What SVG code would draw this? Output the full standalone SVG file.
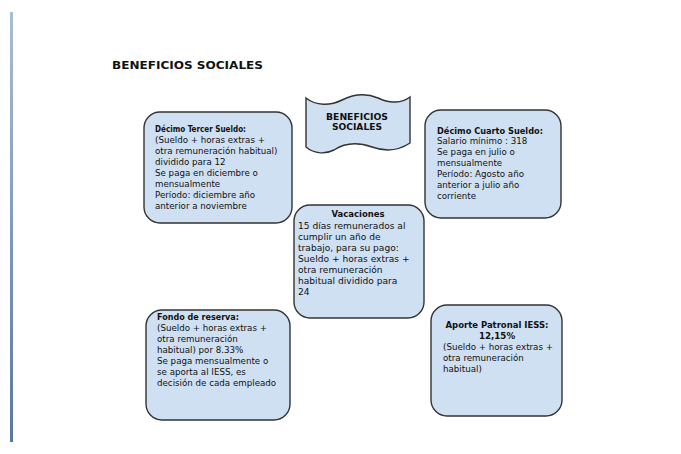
<svg xmlns="http://www.w3.org/2000/svg" width="681" height="454" viewBox="0 0 681 454">
<defs>
<linearGradient id="bar" x1="0" y1="0" x2="0" y2="1">
<stop offset="0" stop-color="#a9bcd8"/>
<stop offset="1" stop-color="#5878a4"/>
</linearGradient>
<style>
.box{fill:#cfe0f2;stroke:#333;stroke-width:1.4}
.t{font-family:"DejaVu Sans",sans-serif;font-size:8.7px;fill:#111}
.b{font-weight:bold}
.v{font-size:9.1px}
.h{font-family:"DejaVu Sans",sans-serif;font-weight:bold;fill:#111}
</style>
</defs>
<rect width="681" height="454" fill="#fff"/>
<rect x="10" y="12" width="3" height="430" fill="url(#bar)"/>
<text class="h" x="112" y="69" font-size="11" textLength="151" lengthAdjust="spacingAndGlyphs">BENEFICIOS SOCIALES</text>

<g id="banner">
<path class="box" d="M306,98 C316,106 330,106 342,100 C354,94 366,93 378,98 C390,104 402,103 410,97 L410,143 C398,151 386,152 372,147 C358,142 346,142 334,150 C324,155 313,153 306,147 Z"/>
<text class="h" x="357" y="120" font-size="8.5" text-anchor="middle" textLength="62" lengthAdjust="spacingAndGlyphs">BENEFICIOS</text>
<text class="h" x="357" y="130" font-size="8.5" text-anchor="middle" textLength="50" lengthAdjust="spacingAndGlyphs">SOCIALES</text>
</g>

<g id="tercer">
<rect class="box" x="144" y="112" width="148" height="111" rx="16"/>
<text class="t b" x="155" y="132" textLength="91" lengthAdjust="spacingAndGlyphs">Décimo Tercer Sueldo:</text>
<text class="t" x="155" y="143">(Sueldo + horas extras +</text>
<text class="t" x="155" y="154">otra remuneración habitual)</text>
<text class="t" x="155" y="165">dividido para 12</text>
<text class="t" x="155" y="176">Se paga en diciembre o</text>
<text class="t" x="155" y="187">mensualmente</text>
<text class="t" x="155" y="198">Período: diciembre año</text>
<text class="t" x="155" y="209">anterior a noviembre</text>
</g>

<g id="cuarto">
<rect class="box" x="425" y="110" width="136" height="108" rx="16"/>
<text class="t b" x="437" y="134" textLength="106" lengthAdjust="spacingAndGlyphs">Décimo Cuarto Sueldo:</text>
<text class="t" x="437" y="144">Salario mínimo : 318</text>
<text class="t" x="437" y="155">Se paga en julio o</text>
<text class="t" x="437" y="166">mensualmente</text>
<text class="t" x="437" y="177">Período: Agosto año</text>
<text class="t" x="437" y="188">anterior a julio año</text>
<text class="t" x="437" y="199">corriente</text>
</g>

<g id="vacaciones">
<rect class="box" x="294" y="205" width="130" height="113" rx="16"/>
<text class="t b" x="358" y="217" text-anchor="middle" textLength="53" lengthAdjust="spacingAndGlyphs">Vacaciones</text>
<text class="t v" x="298" y="228.5">15 días remunerados al</text>
<text class="t v" x="298" y="239.5">cumplir un año de</text>
<text class="t v" x="298" y="250.5">trabajo, para su pago:</text>
<text class="t v" x="298" y="261.5">Sueldo + horas extras +</text>
<text class="t v" x="298" y="272.5">otra remuneración</text>
<text class="t v" x="298" y="283.5">habitual dividido para</text>
<text class="t v" x="298" y="294.5">24</text>
</g>

<g id="fondo">
<rect class="box" x="146" y="310" width="144" height="110" rx="16"/>
<text class="t b" x="157" y="320" textLength="82" lengthAdjust="spacingAndGlyphs">Fondo de reserva:</text>
<text class="t" x="157" y="331">(Sueldo + horas extras +</text>
<text class="t" x="157" y="342">otra remuneración</text>
<text class="t" x="157" y="353">habitual)  por 8.33%</text>
<text class="t" x="157" y="364">Se paga mensualmente o</text>
<text class="t" x="157" y="375">se aporta al IESS, es</text>
<text class="t" x="157" y="386">decisión de cada empleado</text>
</g>

<g id="aporte">
<rect class="box" x="431" y="305" width="131" height="111" rx="16"/>
<text class="t b" x="497" y="328" text-anchor="middle" textLength="103" lengthAdjust="spacingAndGlyphs">Aporte Patronal IESS:</text>
<text class="t b" x="497" y="339" text-anchor="middle">12,15%</text>
<text class="t" x="443" y="350">(Sueldo + horas extras +</text>
<text class="t" x="443" y="361">otra remuneración</text>
<text class="t" x="443" y="372">habitual)</text>
</g>

<g id="connectors"></g>
</svg>
